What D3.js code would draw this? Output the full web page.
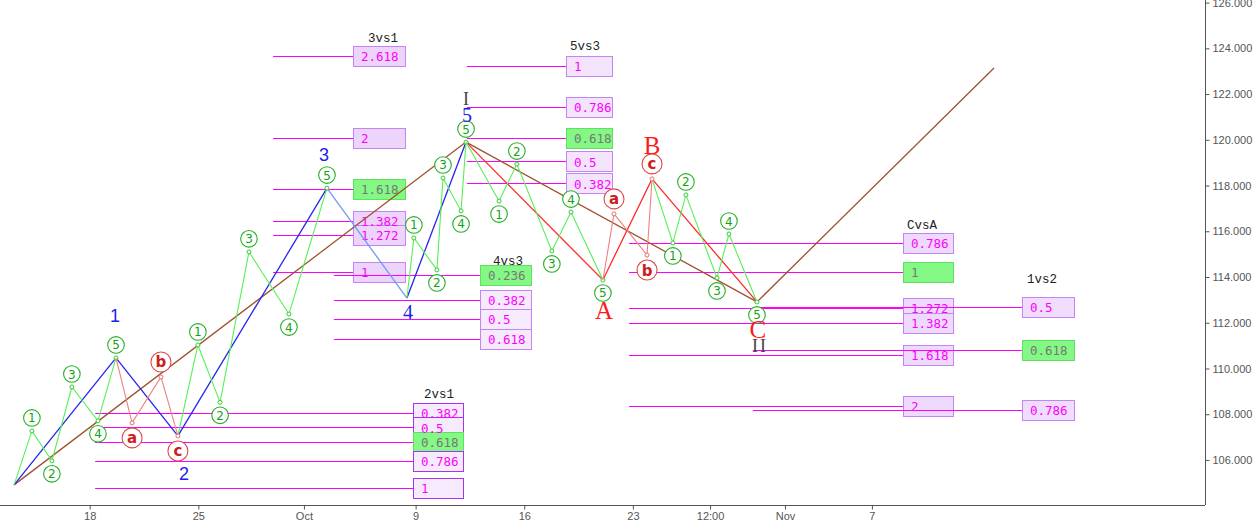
<!DOCTYPE html>
<html><head><meta charset="utf-8">
<script src="https://cdn.jsdelivr.net/npm/d3@7"></script>
<style>body{margin:0;background:#fff}svg{display:block}</style>
</head><body><svg id="c" width="1256" height="524"></svg>
<script>
// ---- DATA ----
// x values are trading-day indices (0 = Mon 18 Sep, weekends skipped)
const xTickValues = [0, 5, 9.86, 15, 20, 25, 28.55, 32, 36];
const xTickLabels = ["18", "25", "Oct", "9", "16", "23", "12:00", "Nov", "7"];
const yTickValues = [106, 108, 110, 112, 114, 116, 118, 120, 122, 124, 126];

// main impulse 0-1-2-3-4-5
const impulseDays   = [-3.48, 1.21, 4.06, 10.92, 14.60, 17.32];
const impulsePrices = [104.91, 110.46, 107.05, 117.89, 113.08, 119.90];
const impulseLabels = ["", "1", "2", "3", "4", "5"];
// correction 5-A-B-C
const correctionDays   = [17.32, 23.62, 25.88, 30.71];
const correctionPrices = [119.90, 113.87, 118.29, 112.91];
const correctionLabels = ["", "A", "B", "C"];
// degree labels
const degreeLabels = ["I", "II"];
// higher-degree (brown) line
const trendDays   = [-3.48, 17.32, 30.71, 41.62];
const trendPrices = [104.91, 119.90, 112.91, 123.14];

// green sub-waves (start + 1..5)
const sub1Days = [-3.48, -2.66, -1.74, -0.82, 0.38, 1.21];
const sub1Prices = [104.91, 107.27, 105.96, 109.19, 107.71, 110.46];
const sub3Days = [4.06, 4.98, 6.00, 7.33, 9.17, 10.92];
const sub3Prices = [107.05, 111.03, 108.52, 115.10, 112.38, 117.89];
const sub5Days = [14.60, 14.92, 15.98, 16.26, 17.09, 17.32];
const sub5Prices = [113.08, 115.71, 114.31, 118.33, 116.89, 119.90];
const subADays = [17.32, 18.84, 19.66, 21.27, 22.15, 23.62];
const subAPrices = [119.90, 117.32, 118.94, 115.14, 116.84, 113.87];
const subCDays = [25.88, 26.84, 27.44, 28.87, 29.42, 30.71];
const subCPrices = [118.29, 115.49, 117.59, 113.96, 115.88, 112.91];
const subImpulseLabels = ["1", "2", "3", "4", "5"];
// a-b-c sub-waves
const sub2Days = [1.21, 1.95, 3.28, 4.06];
const sub2Prices = [110.46, 107.62, 109.63, 107.05];
const subBDays = [23.62, 24.13, 25.65, 25.88];
const subBPrices = [113.87, 116.76, 114.96, 118.29];
const subAbcLabels = ["a", "b", "c"];

// fibonacci groups
const fibGroups = ["3vs1", "4vs3", "2vs1", "5vs3", "CvsA", "1vs2"];
const fibRatios = [
  ["2.618", "2", "1.618", "1.382", "1.272", "1"],
  ["0.236", "0.382", "0.5", "0.618"],
  ["0.382", "0.5", "0.618", "0.786", "1"],
  ["1", "0.786", "0.618", "0.5", "0.382"],
  ["0.786", "1", "1.272", "1.382", "1.618", "2"],
  ["0.5", "0.618", "0.786"]
];
const fibPrices = [
  [123.67, 120.08, 117.85, 116.45, 115.84, 114.22],
  [114.09, 113.00, 112.17, 111.29],
  [108.06, 107.44, 106.79, 105.96, 104.78],
  [123.23, 121.44, 120.08, 119.07, 118.11],
  [115.49, 114.22, 112.65, 111.99, 110.59, 108.36],
  [112.69, 110.81, 108.19]
];
const fibStartDays = [8.44, 11.24, 0.25, 17.36, 24.82, 30.52];
const fibEndDays   = [12.12, 17.96, 14.88, 21.92, 37.43, 42.90];
const fibHighlight = ["1.618", "0.236", "0.618", "0.618", "1", "0.618"];

// ---- LAYOUT / STYLE ----
const plotR = 1205, plotB = 505;
const boxW = [52, 51, 50, 46, 50, 52];
const boxFill = ["#ecd4fb", "#f6eafd", "#f6eafd", "#f3e4fc", "#eedafc", "#f0dcfc"];
const boxStroke = ["#c484f4", "#c484f4", "#a633f0", "#c484f4", "#c484f4", "#c484f4"];
const groupLabelDx = [15, 13, 11, 4, 4, 5];
const groupLabelDy = [17, 13, 18, 19, 17, 27];
const impulseLabelOff = [[0,0], [-1,-42], [6,38], [-3,-33], [1,14], [1,-27]];
const correctionLabelOff = [[0,0], [1,31], [0,-33], [1,28]];

const x = d3.scaleLinear().domain([-4.128, 51.33]).range([0, plotR]);
const y = d3.scaleLinear().domain([104.03, 126.114]).range([plotB, 0]);
const svg = d3.select("#c");
const crisp = v => Math.round(v) + 0.5;

// ---- AXES ----
const ya = svg.append("g").attr("transform", `translate(${plotR+0.5},0)`)
  .call(d3.axisRight(y).tickValues(yTickValues).tickFormat(d3.format(".3f")).tickSize(4).tickSizeOuter(0));
const xa = svg.append("g").attr("transform", `translate(0,${plotB+0.5})`)
  .call(d3.axisBottom(x).tickValues(xTickValues).tickFormat((d, i) => xTickLabels[i]).tickSize(4).tickSizeOuter(0));
[ya, xa].forEach(a => {
  a.select(".domain").attr("stroke", "#555");
  a.selectAll(".tick line").attr("stroke", "#555");
  a.selectAll("text").attr("fill", "#555").style("font-family", "Liberation Sans, Arial, sans-serif").style("font-size", "11px");
});
ya.select(".domain").attr("d", `M0,0V${plotB}`);
xa.select(".domain").attr("d", `M0,0H${plotR}`);

// ---- FIB LEVELS ----
const fibLayer = svg.append("g");
const boxes = fibLayer.append("g"), flines = fibLayer.append("g"), ftexts = fibLayer.append("g");
fibGroups.forEach((name, gi) => {
  const x0 = x(fibStartDays[gi]), x1 = Math.round(x(fibEndDays[gi]));
  fibRatios[gi].forEach((r, i) => {
    const yy = y(fibPrices[gi][i]);
    const hl = r === fibHighlight[gi];
    boxes.append("rect").attr("x", x1 + 0.5).attr("y", Math.round(yy - 10) + 0.5)
      .attr("width", boxW[gi]).attr("height", 20)
      .attr("fill", hl ? "#84f884" : boxFill[gi]).attr("stroke", hl ? "#5fe05f" : boxStroke[gi]);
    flines.append("line").attr("x1", x0).attr("x2", x1).attr("y1", crisp(yy)).attr("y2", crisp(yy))
      .attr("stroke", "#ff00ff").attr("stroke-width", 1);
    ftexts.append("text").attr("x", x1 + 8).attr("y", yy + 1).attr("dominant-baseline", "central")
      .style("font-family", "DejaVu Sans Mono, monospace").style("font-size", "12.5px")
      .attr("fill", hl ? "#777" : "#ff00ff").text(r);
  });
  ftexts.append("text").attr("x", x1 + groupLabelDx[gi]).attr("y", y(fibPrices[gi][0]) - groupLabelDy[gi])
    .attr("dominant-baseline", "central")
    .style("font-family", "Liberation Mono, Courier New, monospace").style("font-size", "12.5px")
    .attr("fill", "#222").text(name);
});

// ---- WAVE LINES ----
const pts = (ds, ps) => ds.map((d, i) => [x(d), y(ps[i])]);
const line = d3.line();
svg.append("path").attr("d", line(pts(trendDays, trendPrices))).attr("fill", "none")
  .attr("stroke", "#a0522d").attr("stroke-width", 1.3);

const imp = pts(impulseDays, impulsePrices);
for (let i = 0; i < imp.length - 1; i++) {
  svg.append("path").attr("d", line([imp[i], imp[i+1]])).attr("fill", "none")
    .attr("stroke", i === 3 ? "#6f9cf0" : "#2424ee").attr("stroke-width", 1.3);
}
svg.append("path").attr("d", line(pts(correctionDays, correctionPrices))).attr("fill", "none")
  .attr("stroke", "#ff2a2a").attr("stroke-width", 1.3);

const greenWaves = [[sub1Days, sub1Prices], [sub3Days, sub3Prices], [sub5Days, sub5Prices], [subADays, subAPrices], [subCDays, subCPrices]];
const abcWaves = [[sub2Days, sub2Prices], [subBDays, subBPrices]];

function drawSub(ds, ps, color, markColor) {
  const p = pts(ds, ps);
  svg.append("path").attr("d", line(p)).attr("fill", "none").attr("stroke", color).attr("stroke-width", 1.1);
  svg.append("g").selectAll("circle").data(p.slice(1)).join("circle")
    .attr("cx", d => d[0]).attr("cy", d => d[1]).attr("r", 2)
    .attr("fill", "#fff").attr("stroke", markColor).attr("stroke-width", 1);
}
greenWaves.forEach(w => drawSub(w[0], w[1], "#55f055", "#33cc33"));
abcWaves.forEach(w => drawSub(w[0], w[1], "#f08080", "#e07070"));

// ---- LABELS ----
function circled(ds, ps, labels, off, r, stroke, fill, size, weight) {
  for (let i = 1; i < ds.length; i++) {
    const up = ps[i] > ps[i-1];
    const cx = x(ds[i]), cy = y(ps[i]) + (up ? -off : off);
    svg.append("circle").attr("cx", cx).attr("cy", cy).attr("r", r)
      .attr("fill", "#fff").attr("stroke", stroke).attr("stroke-width", 1.1);
    svg.append("text").attr("x", cx).attr("y", cy + 0.5).attr("text-anchor", "middle").attr("dominant-baseline", "central")
      .style("font-family", "DejaVu Sans, Arial, sans-serif").style("font-size", size + "px").style("font-weight", weight)
      .attr("fill", fill).text(labels[i-1]);
  }
}
greenWaves.forEach(w => circled(w[0], w[1], subImpulseLabels, 13, 8.3, "#22b022", "#13a313", 12, "normal"));
abcWaves.forEach(w => circled(w[0], w[1], subAbcLabels, 15, 10, "#e04848", "#cc2020", 15, "bold"));

impulseLabels.forEach((t, i) => {
  if (!t) return;
  const serif = i >= 4;
  svg.append("text").attr("x", x(impulseDays[i]) + impulseLabelOff[i][0]).attr("y", y(impulsePrices[i]) + impulseLabelOff[i][1])
    .attr("text-anchor", "middle").attr("dominant-baseline", "central")
    .style("font-family", serif ? "Liberation Serif, Times New Roman, serif" : "Liberation Sans, Arial, sans-serif")
    .style("font-size", serif ? "20px" : "18px").attr("fill", "#2020ee").text(t);
});
correctionLabels.forEach((t, i) => {
  if (!t) return;
  svg.append("text").attr("x", x(correctionDays[i]) + correctionLabelOff[i][0]).attr("y", y(correctionPrices[i]) + correctionLabelOff[i][1])
    .attr("text-anchor", "middle").attr("dominant-baseline", "central")
    .style("font-family", "Liberation Serif, Times New Roman, serif").style("font-size", "25px")
    .attr("fill", "#ff1a1a").text(t);
});
// degree labels I (at top of 5) and II (at end of C)
[[impulseDays[5], impulsePrices[5], -43, 0], [correctionDays[3], correctionPrices[3], 44, 3]].forEach((p, i) => {
  svg.append("text").attr("x", x(p[0]) + p[3]).attr("y", y(p[1]) + p[2])
    .attr("text-anchor", "middle").attr("dominant-baseline", "central")
    .style("font-family", "Liberation Serif, Times New Roman, serif").style("font-size", "18px")
    .style("letter-spacing", i ? "2px" : "0px")
    .attr("fill", "#444").text(degreeLabels[i]);
});
</script></body></html>
